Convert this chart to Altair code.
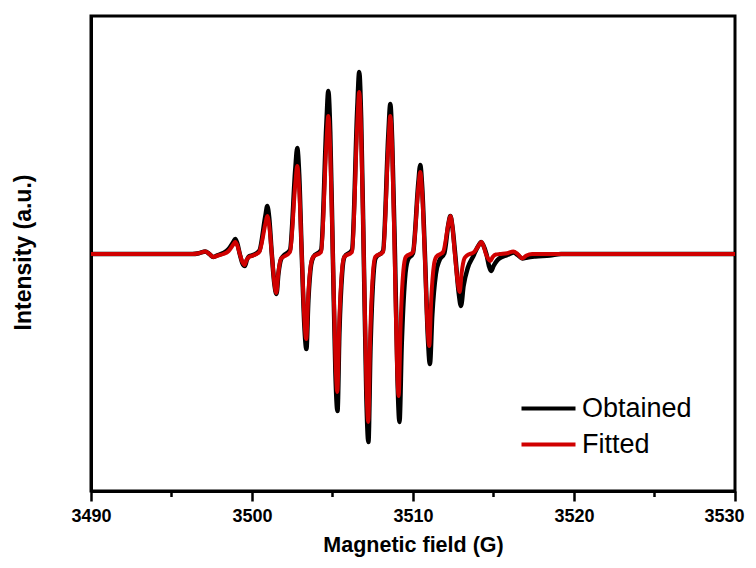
import altair as alt
import pandas as pd

# ---- data ----
field_obtained = [
    3490.00, 3496.00, 3496.30, 3496.70, 3497.10, 3497.35, 3497.60, 3497.90, 3498.22,
    3498.55, 3498.84, 3498.96, 3499.08, 3499.24, 3499.40, 3499.56, 3499.68, 3499.84, 3500.00,
    3500.45, 3500.83, 3500.95, 3501.07, 3501.23, 3501.39, 3501.52, 3501.64, 3501.81, 3501.95,
    3502.36, 3502.69, 3502.81, 3502.93, 3503.09, 3503.25, 3503.38, 3503.50, 3503.67, 3503.81,
    3504.29, 3504.62, 3504.74, 3504.86, 3505.02, 3505.18, 3505.31, 3505.43, 3505.60, 3505.74,
    3506.21, 3506.54, 3506.66, 3506.78, 3506.94, 3507.10, 3507.23, 3507.36, 3507.54, 3507.68,
    3508.14, 3508.47, 3508.59, 3508.71, 3508.88, 3509.04, 3509.16, 3509.30, 3509.50, 3509.68,
    3510.00, 3510.33, 3510.45, 3510.57, 3510.74, 3510.92, 3511.05, 3511.20, 3511.42, 3511.65,
    3511.95, 3512.20, 3512.32, 3512.44, 3512.62, 3512.84, 3512.98, 3513.14, 3513.40, 3513.75,
    3514.05, 3514.24, 3514.36, 3514.56, 3514.72, 3514.85, 3515.00, 3515.25, 3515.60,
    3515.95, 3516.25, 3516.50, 3516.80, 3517.10, 3517.60, 3518.50, 3519.20, 3530.00,
]
intensity_obtained = [
    0, 0, 0, 0.8, 2.5, 0, -3, -1, 1,
    5, 12, 15, 11, 0, -9, -12, -6, -2, -1.5,
    3, 38, 48, 36, 0, -30, -40, -20, -5, -2,
    4, 85, 106, 80, 0, -71, -95, -47, -11, -3,
    4, 130, 163, 122, 0, -118, -157, -78, -19, -3,
    4, 146, 182, 136, 0, -141, -188, -94, -22, -4,
    3, 120, 150, 112, 0, -126, -168, -90, -25, -6,
    1, 71, 89, 67, 0, -82, -110, -60, -20, -6,
    1, 30, 38, 28.5, 0, -39, -52, -32, -14, -2,
    8, 12, 9, 0, -12, -17, -12, -6, -2.5,
    -0.5, 1.5, -1, -4.5, -3.5, -2.5, -1.5, 0, 0,
]

field_fitted = [
    3490.00, 3496.00, 3496.30, 3496.70, 3497.10, 3497.35, 3497.60, 3497.90, 3498.22,
    3498.55, 3498.84, 3498.96, 3499.08, 3499.24, 3499.40, 3499.54, 3499.66, 3499.82, 3500.00,
    3500.45, 3500.83, 3500.95, 3501.07, 3501.23, 3501.39, 3501.51, 3501.63, 3501.80, 3501.94,
    3502.36, 3502.69, 3502.81, 3502.93, 3503.09, 3503.25, 3503.37, 3503.49, 3503.66, 3503.80,
    3504.29, 3504.62, 3504.74, 3504.86, 3505.02, 3505.18, 3505.30, 3505.42, 3505.59, 3505.73,
    3506.21, 3506.54, 3506.66, 3506.78, 3506.94, 3507.10, 3507.22, 3507.34, 3507.51, 3507.65,
    3508.14, 3508.47, 3508.59, 3508.71, 3508.86, 3509.00, 3509.11, 3509.23, 3509.40, 3509.55,
    3510.00, 3510.33, 3510.45, 3510.57, 3510.73, 3510.89, 3511.01, 3511.13, 3511.30, 3511.44,
    3511.87, 3512.20, 3512.32, 3512.44, 3512.60, 3512.78, 3512.90, 3513.02, 3513.19, 3513.35,
    3513.80, 3514.12, 3514.24, 3514.36, 3514.53, 3514.68, 3514.80, 3514.95, 3515.15, 3515.40,
    3515.85, 3516.23, 3516.50, 3516.79, 3517.05, 3517.40, 3530.00,
]
intensity_fitted = [
    0, 0, 0, 0.8, 2.5, 0, -3, -1.5, 0,
    3, 9.5, 12, 9, 0, -8, -11, -6, -3, -2,
    2, 30, 38, 28.5, 0, -29, -39, -19.5, -4.7, -3,
    2, 70, 88, 66, 0, -64, -85, -42.5, -10, -3,
    2, 110, 138, 103, 0, -103, -138, -69, -16.5, -3,
    2, 130, 162, 121, 0, -126, -168, -84, -20, -3,
    2, 110, 138, 103, 0, -106, -142, -71, -17, -3,
    2, 66, 82, 61, 0, -69, -92, -46, -11, -3,
    2, 30, 38, 28.5, 0, -28.5, -38, -19, -4.5, -1.5,
    2, 9.5, 12, 9, 0, -5, -7, -3, -0.5, 0,
    0.8, 2.5, 0, -4.3, -1.5, 0, 0,
]

x_ticks = [3490, 3500, 3510, 3520, 3530]
minor_ticks = [3495, 3505, 3515, 3525]
series_names = ["Obtained", "Fitted"]
series_colors = ["#000000", "#d00000"]

df_obt = pd.DataFrame({"field": field_obtained, "intensity": intensity_obtained, "series": series_names[0]})
df_fit = pd.DataFrame({"field": field_fitted, "intensity": intensity_fitted, "series": series_names[1]})
df_minor = pd.DataFrame({"field": minor_ticks})

W, H = 644, 475
FONT = "Liberation Sans"

x_scale = alt.Scale(domain=[3490, 3530], nice=False, zero=False)
y_scale = alt.Scale(domain=[-237, 238], nice=False, zero=False)

x_axis = alt.Axis(
    values=x_ticks, title="Magnetic field (G)", grid=False, format="d",
    tickSize=10, tickWidth=2.5, tickColor="black",
    domainWidth=3, domainColor="black",
    labelFontSize=18, labelFont=FONT, labelFontWeight="bold", labelColor="black",
    labelPadding=6, labelFlush=False,
    labelOffset={"condition": {"test": "datum.value == 3530", "value": -11}, "value": 0},
    titleFontSize=21.5, titleFont=FONT, titleFontWeight="bold", titleColor="black",
    titleBaseline="alphabetic", titleY=60,
)
y_axis = alt.Axis(
    title="Intensity (a.u.)", labels=False, ticks=False, grid=False,
    domainWidth=3, domainColor="black",
    titleFontSize=23, titleFont=FONT, titleFontWeight="bold", titleColor="black",
    titleX=-68, titleY=236, titleAngle=270, titleAlign="center", titleBaseline="middle",
)

color = alt.Color(
    "series:N",
    scale=alt.Scale(domain=series_names, range=series_colors),
    title=None,
    legend=alt.Legend(
        orient="none", legendX=442, legendY=377,
        symbolType="M-2,0H2", symbolSize=729, symbolStrokeWidth=4,
        labelFontSize=27, labelFont=FONT, labelColor="black",
        labelOffset=18, rowPadding=7, padding=0,
    ),
)

enc = dict(
    x=alt.X("field:Q", scale=x_scale, axis=x_axis),
    y=alt.Y("intensity:Q", scale=y_scale, axis=y_axis),
    color=color,
)

black_line = alt.Chart(df_obt).mark_line(interpolate="monotone", strokeWidth=4.5, strokeJoin="round").encode(**enc)
red_line = alt.Chart(df_fit).mark_line(interpolate="monotone", strokeWidth=4, strokeJoin="round").encode(**enc)

minor = alt.Chart(df_minor).mark_rule(color="black", strokeWidth=2.5).encode(
    x=alt.X("field:Q", scale=x_scale, axis=x_axis),
    y=alt.value(H),
    y2=alt.value(H + 6),
)

chart = alt.layer(black_line, red_line, minor).properties(
    width=W, height=H,
    padding={"left": 83, "top": 8, "right": 13, "bottom": 69},
    autosize=alt.AutoSizeParams(type="none"),
).configure_view(stroke="black", strokeWidth=3)

chart.save("out.html", embed_options={"renderer": "svg", "actions": False})
